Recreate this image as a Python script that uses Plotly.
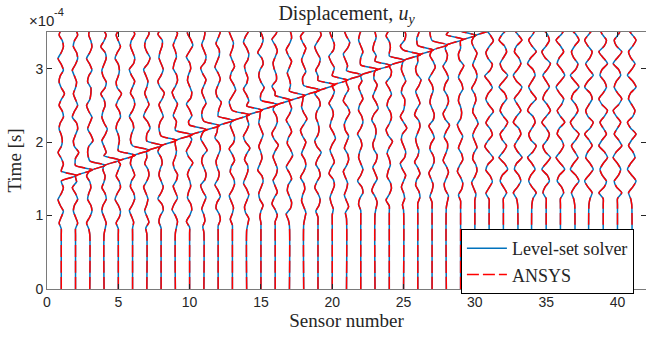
import plotly.graph_objects as go

# ---------------- data (time in units of 1e-4 s, displacement in sensor spacings) ----------------
sensors = list(range(1, 42))

onset = [0.74, 0.74, 0.74, 0.74, 0.74, 0.75, 0.75, 0.75, 0.76, 0.76,
         0.77, 0.78, 0.79, 0.80, 0.82, 0.84, 0.86, 0.88, 0.90, 0.93,
         0.96, 0.99, 1.02, 1.05, 1.07, 1.09, 1.10, 1.11, 1.12, 1.13,
         1.14, 1.15, 1.15, 1.15, 1.15, 1.15, 1.15, 1.15, 1.15, 1.15, 1.15]

pulse_sensors = list(range(1, 31))
pulse_start = [1.47, 1.54, 1.61, 1.68, 1.74, 1.81, 1.88, 1.95, 2.02, 2.09,
               2.15, 2.22, 2.29, 2.36, 2.43, 2.50, 2.56, 2.63, 2.70, 2.77,
               2.84, 2.91, 2.97, 3.04, 3.11, 3.18, 3.25, 3.32, 3.38, 3.45]
pulse_amp = [1.1, 1.2, 1.1, 1.1, 1.2, 1.2, 1.1, 1.1, 1.2, 1.2,
             1.1, 1.1, 1.2, 1.1, 1.2, 1.1, 1.1, 1.2, 1.2, 1.1,
             1.1, 1.2, 1.1, 1.1, 1.2, 1.1, 1.1, 1.2, 1.1, 1.1]

# wiggle samples after onset (digit 5 = no displacement)
wiggle = [
    "535742576347525653476358534752576357",
    "575347526753584357624753564257634753",
    "425763465257534863574256634752576457",
    "675347635642575368534652674357625743",
    "536752476357425653476358435652475367",
    "564257634753586346525763574267534753",
    "475356425763574358624753564268534763",
    "534762575346525763475368425753466257",
    "675247536743565248635742576346535742",
    "525763465358425763475267534652586347",
    "465357426753485256634753574267535642",
    "576347525643576247536843575246635742",
    "535642576347526753465258634753564267",
    "674357524663584257634752564367524753",
    "545743576246535753467258534762576347",
    "575247536753584257634752664357526743",
    "426753475258634752576346535742576357",
    "675346525763574258534762475357426853",
    "536752476358425653476247536742586347",
    "564357624753586346525763574267534753",
    "475356425763574358624753564268534763",
    "534762575346525763475368425753466257",
    "675247536743565248635742576346535742",
    "525763465358425763475267534652586347",
    "465357426753485256634753574267535642",
    "576347525643576247536843575246635742",
    "535642576347526753465258634753564267",
    "674357524663584257634752564367524753",
    "536752476357425653476358435652475367",
    "564257634753586346525763574267534753",
    "525862495148625952485168425962485158",
    "585249615842695248615942586149526841",
    "415862495258614852694158624951684259",
    "695248516942586149525861495268415962",
    "524861594268515962485269415862495168",
    "586249515862495268415962485169425861",
    "425961485269415862495168425961485269",
    "684159624851694258614952684159624851",
    "516842596148526941586249516842596148",
    "594268514962584169524861594268514962",
    "426951486259416852496158426951486259",
]
ansys_wiggle = list(wiggle)

DT = 0.08          # sample spacing of wiggle strings
UNIT = 0.075       # displacement per digit step
RISE_PER_SPACING = 0.068
RETURN = 0.06
TMAX = 3.5


def build(strings):
    xs, ys = [], []
    pulses = dict(zip(pulse_sensors, zip(pulse_start, pulse_amp)))
    for k, s in enumerate(sensors):
        pts = [(0.0, 0.0), (onset[k], 0.0)]
        p = pulses.get(s)
        if p:
            ps, pa = p
            rise = pa * RISE_PER_SPACING
            lo, hi = ps - 0.04, ps + rise + RETURN + 0.04
        for j, ch in enumerate(strings[k]):
            t = onset[k] + (j + 1) * DT
            if p and lo < t < hi:
                continue
            pts.append((t, (int(ch) - 5) * UNIT))
        if p:
            pts += [(ps, 0.0), (ps + rise, pa), (ps + rise + RETURN, 0.0)]
        pts.sort()
        for t, d in pts:
            xs.append(s + d)
            ys.append(t)
        xs.append(None)
        ys.append(None)
    return xs, ys


x1, y1 = build(wiggle)
x2, y2 = build(ansys_wiggle)

fig = go.Figure()
fig.add_trace(go.Scatter(x=x1, y=y1, mode="lines", name="Level-set solver",
                         line=dict(color="#0072BD", width=1.5, shape="spline", smoothing=0.6)))
fig.add_trace(go.Scatter(x=x2, y=y2, mode="lines", name="ANSYS",
                         line=dict(color="#FF0000", width=1.5, dash="12px,4px",
                                   shape="spline", smoothing=0.6)))

serif = "Liberation Serif"
sans = "Liberation Sans"
axis_common = dict(showline=True, linecolor="#7a7a7a", linewidth=1, mirror="ticks",
                   ticks="inside", ticklen=5, tickcolor="#262626", showgrid=False,
                   zeroline=False, tickfont=dict(family=sans, size=14, color="#262626"))

fig.update_layout(
    width=646, height=337,
    margin=dict(l=47, r=0, t=32, b=48),
    paper_bgcolor="white", plot_bgcolor="white",
    title=dict(text="Displacement, <i>u<sub>y</sub></i>", x=0.5, xref="paper",
               y=0.962, yanchor="middle", font=dict(family=serif, size=20, color="#262626")),
    xaxis=dict(range=[0, 42], tickvals=[0, 5, 10, 15, 20, 25, 30, 35, 40],
               title=dict(text="Sensor number", font=dict(family=serif, size=19, color="#262626"),
                          standoff=3), **axis_common),
    yaxis=dict(range=[0, TMAX], tickvals=[0, 1, 2, 3],
               title=dict(text="Time [s]", font=dict(family=serif, size=19, color="#262626"),
                          standoff=8), **axis_common),
    legend=dict(x=0.691, y=0.2335, xanchor="left", yanchor="top",
                bordercolor="black", borderwidth=1, bgcolor="white",
                font=dict(family=serif, size=18, color="#262626"),
                tracegroupgap=0, itemwidth=40),
    showlegend=True,
)
# axis exponent label "×10^-4"
fig.add_annotation(text="×10", xref="paper", yref="paper", x=-0.033, y=1.0,
                   xanchor="left", yanchor="bottom", yshift=1, showarrow=False,
                   font=dict(family=sans, size=15, color="#262626"))
fig.add_annotation(text="-4", xref="paper", yref="paper", x=0.008, y=1.0,
                   xanchor="left", yanchor="bottom", yshift=12, showarrow=False,
                   font=dict(family=sans, size=11, color="#262626"))

fig.write_html("out.html")
